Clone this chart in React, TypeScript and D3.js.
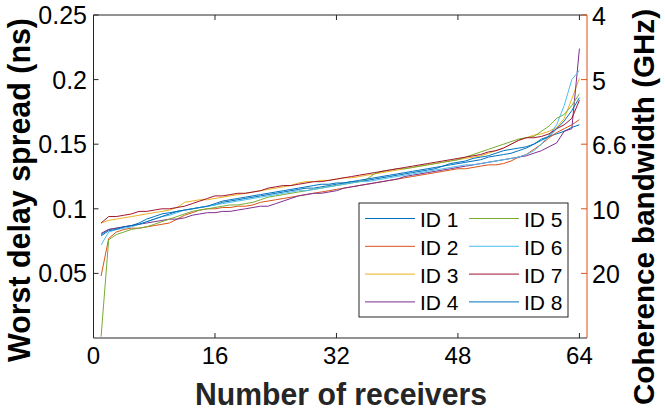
import React from "react";
import * as d3 from "d3";

const receivers = d3.range(1, 65);
const xTicks = [0, 16, 32, 48, 64];
const yTicks = [0.05, 0.1, 0.15, 0.2, 0.25];
const yTickLabels = ["0.05", "0.1", "0.15", "0.2", "0.25"];
const rightTickLabels = ["20", "10", "6.6", "5", "4"];
const seriesNames = ["ID 1", "ID 2", "ID 3", "ID 4", "ID 5", "ID 6", "ID 7", "ID 8"];
const seriesColors = ["#0072BD", "#D95319", "#EDB120", "#7E2F8E", "#77AC30", "#4DBEEE", "#A2142F", "#0072BD"];

const id1 = [
  0.080,0.084,0.085,0.086,0.087,0.089,0.092,0.094,
  0.096,0.097,0.098,0.099,0.100,0.101,0.102,0.103,
  0.105,0.106,0.107,0.108,0.109,0.110,0.111,0.112,
  0.113,0.114,0.115,0.116,0.116,0.117,0.118,0.119,
  0.120,0.121,0.121,0.122,0.123,0.124,0.125,0.126,
  0.127,0.128,0.129,0.130,0.131,0.133,0.134,0.135,
  0.136,0.137,0.138,0.140,0.141,0.142,0.143,0.145,
  0.147,0.150,0.154,0.156,0.158,0.160,0.163,0.165,
];
const id2 = [
  0.048,0.077,0.082,0.084,0.085,0.085,0.086,0.087,
  0.088,0.089,0.092,0.095,0.097,0.099,0.100,0.100,
  0.101,0.101,0.102,0.102,0.103,0.105,0.106,0.107,
  0.108,0.109,0.110,0.111,0.112,0.113,0.114,0.115,
  0.116,0.117,0.118,0.119,0.120,0.121,0.122,0.123,
  0.124,0.125,0.126,0.127,0.128,0.129,0.130,0.131,
  0.131,0.132,0.133,0.134,0.134,0.135,0.137,0.140,
  0.142,0.146,0.150,0.155,0.159,0.162,0.165,0.169,
];
const id3 = [
  0.089,0.091,0.092,0.093,0.094,0.095,0.096,0.097,
  0.098,0.099,0.101,0.105,0.106,0.107,0.107,0.108,
  0.109,0.110,0.111,0.112,0.113,0.114,0.115,0.116,
  0.117,0.118,0.120,0.121,0.121,0.122,0.122,0.123,
  0.124,0.124,0.125,0.126,0.127,0.128,0.129,0.130,
  0.131,0.132,0.133,0.134,0.135,0.136,0.137,0.138,
  0.139,0.140,0.141,0.143,0.145,0.147,0.150,0.153,
  0.155,0.157,0.158,0.160,0.163,0.170,0.185,0.201,
];
const id4 = [
  0.081,0.084,0.085,0.086,0.087,0.088,0.089,0.090,
  0.091,0.092,0.092,0.093,0.095,0.096,0.097,0.097,
  0.098,0.098,0.099,0.100,0.101,0.102,0.102,0.104,
  0.106,0.108,0.110,0.111,0.112,0.112,0.113,0.114,
  0.116,0.117,0.118,0.119,0.120,0.121,0.122,0.123,
  0.125,0.126,0.127,0.128,0.129,0.130,0.131,0.132,
  0.133,0.134,0.135,0.136,0.137,0.138,0.139,0.140,
  0.141,0.143,0.145,0.148,0.151,0.160,0.162,0.224,
];
const id5 = [
  0.001,0.076,0.080,0.082,0.084,0.085,0.086,0.088,
  0.090,0.092,0.094,0.096,0.098,0.099,0.100,0.101,
  0.102,0.103,0.103,0.104,0.105,0.107,0.109,0.110,
  0.111,0.112,0.113,0.114,0.115,0.116,0.117,0.118,
  0.119,0.120,0.121,0.123,0.127,0.129,0.130,0.131,
  0.131,0.132,0.133,0.134,0.135,0.136,0.137,0.138,
  0.140,0.142,0.144,0.146,0.148,0.150,0.152,0.154,
  0.155,0.156,0.160,0.164,0.170,0.173,0.180,0.189,
];
const id6 = [
  0.072,0.082,0.084,0.085,0.086,0.088,0.090,0.092,
  0.094,0.095,0.097,0.099,0.100,0.101,0.102,0.103,
  0.104,0.105,0.106,0.107,0.108,0.109,0.110,0.111,
  0.112,0.113,0.114,0.114,0.115,0.116,0.117,0.118,
  0.119,0.120,0.121,0.121,0.122,0.123,0.124,0.125,
  0.126,0.127,0.128,0.129,0.130,0.131,0.132,0.133,
  0.134,0.134,0.135,0.136,0.137,0.138,0.139,0.140,
  0.142,0.145,0.150,0.157,0.165,0.180,0.200,0.207,
];
const id7 = [
  0.089,0.094,0.094,0.095,0.096,0.098,0.098,0.099,
  0.100,0.100,0.101,0.102,0.104,0.106,0.108,0.110,
  0.110,0.111,0.112,0.112,0.113,0.114,0.116,0.117,
  0.118,0.118,0.119,0.120,0.121,0.121,0.122,0.123,
  0.124,0.125,0.126,0.127,0.128,0.129,0.130,0.131,
  0.132,0.133,0.134,0.135,0.136,0.137,0.138,0.139,
  0.140,0.141,0.142,0.144,0.145,0.147,0.150,0.153,
  0.155,0.155,0.156,0.158,0.162,0.165,0.170,0.184,
];
const id8 = [
  0.079,0.083,0.084,0.086,0.087,0.088,0.090,0.092,
  0.094,0.096,0.098,0.099,0.100,0.101,0.102,0.104,
  0.106,0.107,0.108,0.109,0.110,0.111,0.112,0.113,
  0.114,0.115,0.116,0.117,0.118,0.119,0.119,0.120,
  0.120,0.121,0.122,0.123,0.124,0.125,0.126,0.127,
  0.128,0.129,0.130,0.131,0.132,0.133,0.135,0.136,
  0.137,0.139,0.140,0.141,0.143,0.145,0.146,0.147,
  0.148,0.150,0.153,0.156,0.162,0.168,0.176,0.186,
];
const seriesValues = [id1, id2, id3, id4, id5, id6, id7, id8];

const W = 665;
const H = 413;
const left = 93.5;
const right = 587;
const top = 15;
const bottom = 338;
const font = "'Liberation Sans', Arial, Helvetica, sans-serif";
const axisColor = "#262626";
const rightColor = "#D95319";

export default function App() {
  const x = d3.scaleLinear().domain([0, 65]).range([left, right]);
  const y = d3.scaleLinear().domain([0, 0.25]).range([bottom, top]);
  const line = d3
    .line<number>()
    .x((_, i) => x(receivers[i]))
    .y((d) => y(d));

  const legX = 359;
  const legY = 203;
  const legW = 209;
  const legH = 114;
  const rowStep = 27.8;
  const row0 = 218.5;

  return (
    <svg
      width={W}
      height={H}
      style={{ position: "absolute", left: 0, top: 0, background: "#fff" }}
      fontFamily={font}
    >
      <rect x={0} y={0} width={W} height={H} fill="#fff" />
      {seriesValues.map((vals, k) => (
        <path key={k} d={line(vals) || ""} fill="none" stroke={seriesColors[k]} strokeWidth={1} />
      ))}
      <line x1={left} x2={right} y1={top} y2={top} stroke={axisColor} strokeWidth={1} />
      <line x1={left} x2={right} y1={bottom} y2={bottom} stroke={axisColor} strokeWidth={1} />
      <line x1={left} x2={left} y1={top} y2={bottom} stroke={axisColor} strokeWidth={1} />
      <line x1={right} x2={right} y1={top} y2={bottom} stroke={rightColor} strokeWidth={1} />
      {xTicks.map((t) => (
        <g key={"x" + t}>
          <line x1={x(t)} x2={x(t)} y1={bottom} y2={bottom - 5} stroke={axisColor} />
          <line x1={x(t)} x2={x(t)} y1={top} y2={top + 5} stroke={axisColor} />
          <text x={x(t)} y={364} textAnchor="middle" fontSize={24} fill="#000">
            {t}
          </text>
        </g>
      ))}
      {yTicks.map((t, i) => (
        <g key={"y" + t}>
          <line x1={left} x2={left + 5} y1={y(t)} y2={y(t)} stroke={axisColor} />
          <text x={87} y={y(t)} textAnchor="end" dominantBaseline="central" fontSize={25} fill="#000">
            {yTickLabels[i]}
          </text>
        </g>
      ))}
      {yTicks.map((t, i) => (
        <g key={"r" + t}>
          <line x1={right} x2={right - 6} y1={y(t)} y2={y(t)} stroke={rightColor} />
          <text x={592} y={y(t) + 1} textAnchor="start" dominantBaseline="central" fontSize={25} fill="#000">
            {rightTickLabels[i]}
          </text>
        </g>
      ))}
      <rect x={legX} y={legY} width={legW} height={legH} fill="#fff" stroke={axisColor} strokeWidth={1} />
      {seriesNames.map((name, k) => {
        const col = Math.floor(k / 4);
        const row = k % 4;
        const lx = col === 0 ? 365 : 469;
        const ty = row0 + row * rowStep;
        return (
          <g key={name}>
            <line x1={lx} x2={lx + 50} y1={ty} y2={ty} stroke={seriesColors[k]} strokeWidth={1} />
            <text x={lx + 55} y={ty + 1} dominantBaseline="central" fontSize={21} fill="#000">
              {name}
            </text>
          </g>
        );
      })}
      <text
        x={341}
        y={405}
        textAnchor="middle"
        fontSize={31}
        fontWeight="bold"
        fill="#262626"
        textLength={292}
        lengthAdjust="spacingAndGlyphs"
      >
        Number of receivers
      </text>
      <text
        transform="translate(30,190) rotate(-90)"
        textAnchor="middle"
        fontSize={31}
        fontWeight="bold"
        fill="#000"
        textLength={344}
        lengthAdjust="spacingAndGlyphs"
      >
        Worst delay spread (ns)
      </text>
      <text
        transform="translate(654,207) rotate(-90)"
        textAnchor="middle"
        fontSize={30}
        fontWeight="bold"
        fill="#000"
        textLength={396}
        lengthAdjust="spacingAndGlyphs"
      >
        Coherence bandwidth (GHz)
      </text>
    </svg>
  );
}
